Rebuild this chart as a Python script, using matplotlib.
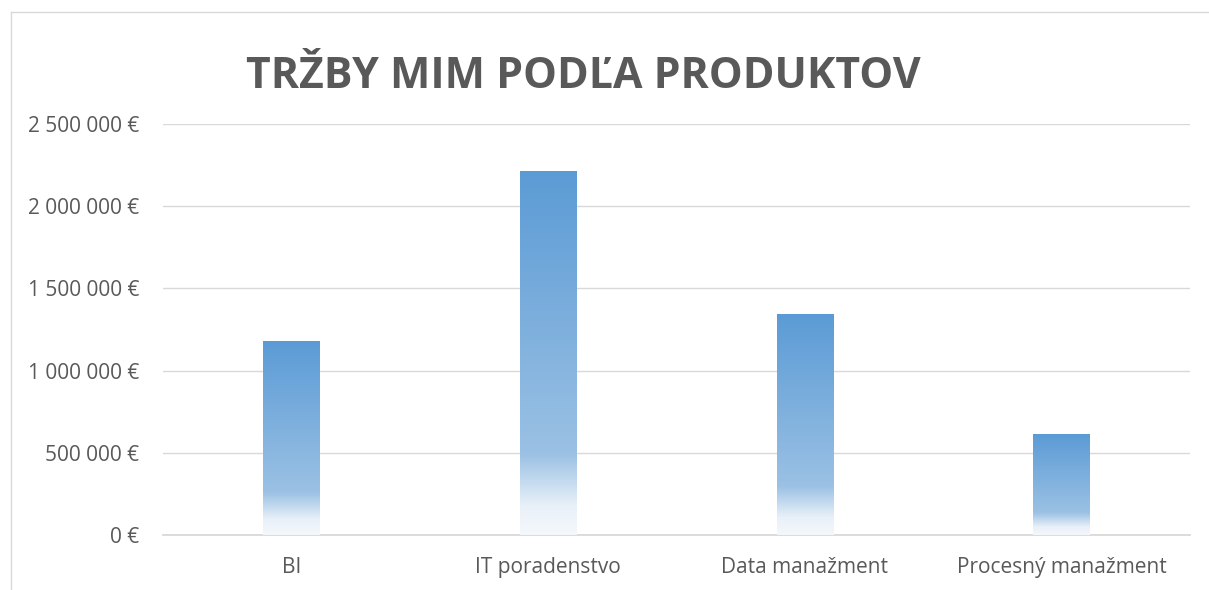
import matplotlib
matplotlib.use("Agg")
import matplotlib.pyplot as plt
import numpy as np
from matplotlib.colors import LinearSegmentedColormap
from matplotlib.ticker import FuncFormatter, MultipleLocator
from matplotlib.lines import Line2D

categories = ["BI", "IT poradenstvo", "Data manažment", "Procesný manažment"]
revenue = [1180000, 2214000, 1344000, 614000]
title = "TRŽBY MIM PODĽA PRODUKTOV"

plt.rcParams['font.family'] = ['Open Sans', 'DejaVu Sans']
TXT = '#595959'
GRID = '#d9d9d9'

fig = plt.figure(figsize=(12.09, 5.90), dpi=100)
W, H = 1209, 590
ax = fig.add_axes([163 / W, 1 - 535 / H, (1190 - 163) / W, (535 - 124) / H])

x = np.arange(len(categories))
bars = ax.bar(x, revenue, width=0.22, facecolor='none', edgecolor='none', zorder=3)

cmap = LinearSegmentedColormap.from_list('grad', [
    (0.00, (244/255, 248/255, 252/255)),
    (0.08, (232/255, 240/255, 248/255)),
    (0.22, (155/255, 193/255, 228/255)),
    (1.00, (91/255, 155/255, 213/255)),
])
grad = np.linspace(0, 1, 256).reshape(-1, 1)
for b in bars:
    x0, y0 = b.get_x(), b.get_y()
    w, h = b.get_width(), b.get_height()
    im = ax.imshow(grad, cmap=cmap, origin='lower', aspect='auto',
                   extent=[x0, x0 + w, y0, y0 + h], zorder=3, interpolation='bicubic')
    im.set_clip_path(b)

ax.set_xlim(-0.5, len(categories) - 0.5)
ax.set_ylim(0, 2500000)
ax.yaxis.set_major_locator(MultipleLocator(500000))


def fmt(v, pos):
    s = f"{int(round(v)):,}".replace(",", " ")
    return s + " €"


ax.yaxis.set_major_formatter(FuncFormatter(fmt))
ax.set_xticks(x)
ax.set_xticklabels(categories)
ax.tick_params(axis='y', length=0, pad=17, labelsize=15, labelcolor=TXT)
ax.tick_params(axis='x', length=0, pad=16, labelsize=15, labelcolor=TXT)

ax.grid(axis='y', color=GRID, linewidth=1.0, zorder=0)
ax.set_axisbelow(True)
for s in ['top', 'right', 'left']:
    ax.spines[s].set_visible(False)
ax.spines['bottom'].set_color(GRID)
ax.spines['bottom'].set_linewidth(1.3)

fig.text(583 / W, 1 - 88 / H, title, ha='center', va='baseline',
         fontsize=30.8, fontweight='bold', color=TXT)

# chart border (left and top edges visible)
fig.add_artist(Line2D([10.5 / W, 10.5 / W], [0, 1 - 12 / H], transform=fig.transFigure,
                      color='#d9d9d9', linewidth=1.0))
fig.add_artist(Line2D([10.5 / W, 1], [1 - 12 / H, 1 - 12 / H], transform=fig.transFigure,
                      color='#d9d9d9', linewidth=1.0))

fig.savefig('out.png', dpi=100, facecolor='white')
